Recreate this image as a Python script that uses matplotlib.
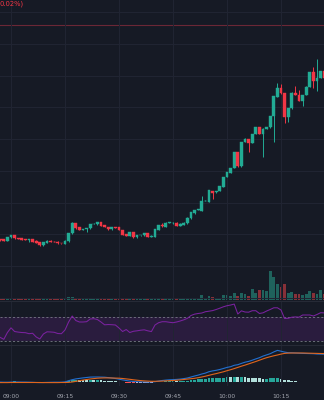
import matplotlib
matplotlib.use('Agg')
import matplotlib.pyplot as plt
from matplotlib.lines import Line2D
import numpy as np

# 1-minute bars, minutes from 09:00
minutes = np.arange(-3, 88)

open_ = [12.010, 12.007, 11.995, 12.025, 12.050, 12.020, 12.017, 12.010, 12.000, 12.010,
         11.993, 11.980, 11.947, 11.973, 11.993, 11.985, 11.983, 11.970, 11.960, 11.987,
         12.067, 12.167, 12.127, 12.103, 12.107, 12.117, 12.160, 12.157, 12.180, 12.150,
         12.130, 12.107, 12.130, 12.127, 12.100, 12.060, 12.040, 12.077, 12.027, 12.047,
         12.047, 12.067, 12.033, 12.033, 12.100, 12.153, 12.130, 12.173, 12.170, 12.173,
         12.143, 12.153, 12.167, 12.217, 12.267, 12.300, 12.293, 12.390, 12.383, 12.490,
         12.477, 12.490, 12.533, 12.630, 12.670, 12.720, 12.877, 12.740, 12.980, 13.007,
         12.970, 13.060, 13.127, 13.060, 13.110, 13.127, 13.240, 13.433, 13.523, 13.467,
         13.227, 13.317, 13.473, 13.450, 13.393, 13.450, 13.533, 13.680, 13.593, 13.620,
         13.690]
close = [11.997, 11.995, 12.027, 12.050, 12.017, 12.014, 12.004, 12.000, 12.007, 11.980,
         11.973, 11.947, 11.980, 11.993, 11.983, 11.981, 11.967, 11.966, 11.993, 12.067,
         12.167, 12.117, 12.100, 12.111, 12.120, 12.160, 12.163, 12.180, 12.143, 12.130,
         12.107, 12.127, 12.120, 12.100, 12.050, 12.040, 12.080, 12.027, 12.050, 12.050,
         12.067, 12.033, 12.043, 12.110, 12.150, 12.143, 12.173, 12.175, 12.173, 12.143,
         12.163, 12.173, 12.223, 12.277, 12.300, 12.305, 12.390, 12.393, 12.500, 12.470,
         12.490, 12.540, 12.630, 12.680, 12.720, 12.877, 12.740, 12.980, 13.007, 12.970,
         13.060, 13.127, 13.060, 13.113, 13.127, 13.240, 13.440, 13.523, 13.467, 13.227,
         13.317, 13.473, 13.450, 13.393, 13.450, 13.533, 13.680, 13.593, 13.620, 13.690,
         13.620]
high = [12.013, 12.010, 12.030, 12.053, 12.053, 12.023, 12.020, 12.013, 12.010, 12.012,
        11.996, 11.983, 11.983, 11.996, 11.996, 11.988, 11.986, 11.973, 11.996, 12.070,
        12.180, 12.170, 12.130, 12.114, 12.123, 12.163, 12.166, 12.183, 12.183, 12.153,
        12.133, 12.130, 12.133, 12.130, 12.103, 12.063, 12.083, 12.080, 12.053, 12.053,
        12.070, 12.070, 12.046, 12.113, 12.153, 12.167, 12.176, 12.178, 12.176, 12.176,
        12.166, 12.176, 12.226, 12.280, 12.303, 12.308, 12.440, 12.396, 12.503, 12.493,
        12.493, 12.543, 12.633, 12.683, 12.723, 12.880, 12.880, 12.983, 13.015, 13.010,
        13.063, 13.130, 13.130, 13.116, 13.130, 13.243, 13.443, 13.567, 13.560, 13.470,
        13.320, 13.476, 13.540, 13.500, 13.453, 13.536, 13.683, 13.730, 13.807, 13.693,
        13.710]
low = [11.993, 11.992, 11.992, 12.022, 12.014, 12.011, 12.000, 11.998, 11.983, 11.977,
       11.970, 11.944, 11.944, 11.970, 11.980, 11.978, 11.964, 11.963, 11.957, 11.984,
       12.064, 12.114, 12.097, 12.100, 12.083, 12.114, 12.157, 12.154, 12.140, 12.127,
       12.104, 12.104, 12.117, 12.097, 12.047, 12.037, 12.037, 12.024, 12.024, 12.044,
       12.044, 12.030, 12.030, 12.030, 12.097, 12.133, 12.127, 12.170, 12.163, 12.140,
       12.140, 12.150, 12.164, 12.214, 12.264, 12.297, 12.290, 12.387, 12.380, 12.410,
       12.474, 12.487, 12.530, 12.627, 12.667, 12.717, 12.730, 12.730, 12.977, 12.883,
       12.967, 13.057, 13.057, 12.833, 13.107, 13.124, 12.980, 13.430, 13.464, 13.173,
       13.180, 13.314, 13.447, 13.390, 13.340, 13.447, 13.530, 13.520, 13.490, 13.617,
       13.617]

# volume, thousands
volume = [1.0, 1.2, 1.5, 1.3, 1.0, 1.2, 1.0, 0.8, 1.0, 1.2, 1.4, 1.6, 1.2, 1.0, 0.8,
          1.0, 0.8, 1.0, 1.2, 2.2, 2.6, 1.8, 1.4, 1.0, 1.2, 1.5, 0.8, 1.3, 1.2, 1.0,
          1.0, 0.8, 0.8, 1.0, 1.5, 1.2, 1.2, 1.4, 1.0, 0.8, 1.0, 1.2, 0.8, 1.6, 1.4,
          1.6, 1.2, 0.8, 1.0, 1.2, 1.0, 1.5, 1.8, 1.5, 1.6, 1.0, 5.0, 1.6, 3.3, 2.3,
          2.0, 2.0, 4.3, 4.3, 3.6, 7.0, 3.6, 7.0, 6.0, 3.6, 11.0, 6.6, 10.0, 10.0, 8.3,
          28.6, 22.6, 15.3, 12.6, 16.0, 6.6, 7.3, 5.3, 5.3, 4.3, 5.3, 8.6, 6.6, 5.3, 10.0,
          5.6]

rsi = [35.3, 32.0, 43.6, 51.6, 45.3, 44.3, 43.6, 43.3, 41.6, 42.3, 36.0, 32.6, 41.1, 44.8,
       44.5, 44.0, 41.9, 41.6, 47.9, 61.5, 71.7, 64.0, 61.5, 61.5, 62.0, 66.6, 67.1, 65.7,
       61.5, 56.7, 57.2, 56.9, 56.4, 51.3, 45.3, 48.7, 43.6, 45.7, 46.5, 47.5, 48.2, 46.5,
       45.2, 56.4, 60.3, 62.0, 62.0, 61.0, 60.3, 61.5, 63.2, 65.2, 67.8, 72.6, 74.9, 76.0,
       76.8, 79.0, 79.9, 80.9, 82.8, 85.0, 87.4, 89.2, 90.4, 92.0, 75.1, 80.5, 78.5, 78.2,
       80.7, 80.7, 76.0, 77.1, 80.2, 82.8, 85.7, 85.7, 81.9, 67.4, 67.8, 69.7, 70.2, 69.7,
       73.4, 73.4, 73.4, 71.7, 74.3, 77.3, 77.0]

macd = [-0.004, -0.005, -0.005, -0.004, -0.003, -0.003, -0.004, -0.004, -0.005, -0.006,
        -0.008, -0.009, -0.008, -0.007, -0.006, -0.005, -0.005, -0.005, -0.002, 0.010,
        0.020, 0.028, 0.033, 0.038, 0.042, 0.046, 0.047, 0.047, 0.046, 0.045,
        0.041, 0.037, 0.032, 0.025, 0.018, 0.012, 0.006, 0.002, 0.000, -0.002,
        -0.003, -0.004, -0.003, 0.000, 0.006, 0.012, 0.016, 0.019, 0.021, 0.023,
        0.026, 0.031, 0.037, 0.047, 0.057, 0.066, 0.077, 0.086, 0.100, 0.108,
        0.114, 0.122, 0.132, 0.143, 0.150, 0.164, 0.170, 0.183, 0.195, 0.203,
        0.215, 0.228, 0.240, 0.256, 0.268, 0.280, 0.298, 0.313, 0.305, 0.296,
        0.290, 0.289, 0.287, 0.285, 0.283, 0.282, 0.281, 0.280, 0.277, 0.276,
        0.275]
signal = [-0.009, -0.009, -0.009, -0.008, -0.008, -0.008, -0.008, -0.008, -0.008, -0.008,
          -0.008, -0.008, -0.009, -0.009, -0.009, -0.009, -0.009, -0.008, -0.008, -0.007,
          -0.003, 0.003, 0.010, 0.016, 0.022, 0.027, 0.031, 0.035, 0.037, 0.038,
          0.038, 0.037, 0.036, 0.035, 0.032, 0.028, 0.024, 0.019, 0.015, 0.011,
          0.008, 0.006, 0.004, 0.004, 0.005, 0.006, 0.008, 0.010, 0.012, 0.015,
          0.018, 0.022, 0.026, 0.030, 0.034, 0.040, 0.047, 0.055, 0.064, 0.073,
          0.081, 0.090, 0.099, 0.110, 0.120, 0.131, 0.143, 0.155, 0.166, 0.178,
          0.190, 0.202, 0.215, 0.228, 0.240, 0.250, 0.259, 0.267, 0.276, 0.283,
          0.286, 0.287, 0.287, 0.287, 0.287, 0.286, 0.285, 0.284, 0.283, 0.282,
          0.281]
hist = [-0.008, -0.006, -0.003, 0.002, 0.003, 0.002, 0.001, -0.001, -0.003, -0.005,
        -0.008, -0.012, -0.013, -0.010, -0.008, -0.006, -0.006, -0.005, -0.002, 0.008,
        0.020, 0.022, 0.020, 0.018, 0.016, 0.017, 0.016, 0.016, 0.013, 0.010,
        0.007, 0.005, 0.003, 0.000, -0.005, -0.008, -0.009, -0.012, -0.012, -0.011,
        -0.010, -0.010, -0.009, -0.005, -0.001, 0.002, 0.005, 0.006, 0.006, 0.005,
        0.006, 0.008, 0.012, 0.018, 0.022, 0.023, 0.028, 0.028, 0.033, 0.034,
        0.035, 0.037, 0.040, 0.046, 0.045, 0.047, 0.044, 0.044, 0.043, 0.042,
        0.041, 0.038, 0.034, 0.030, 0.032, 0.034, 0.038, 0.040, 0.030, 0.020,
        0.014, 0.012, 0.006, 0.001, -0.004, -0.005, -0.004, -0.004, -0.003, -0.002,
        -0.002]

tick_minutes = [0, 15, 30, 45, 60, 75]
tick_labels = ['09:00', '09:15', '09:30', '09:45', '10:00', '10:15']
prev_close = 14.15

BG = '#161a25'
GRID = '#212533'
UP = '#22ab94'
DOWN = '#f23645'

fig = plt.figure(figsize=(3.24, 4.0), dpi=100, facecolor=BG)
H = 400.0
ax = fig.add_axes([0, 1 - 299.5 / H, 1, 299.5 / H])
axr = fig.add_axes([0, 1 - 344.5 / H, 1, 44 / H])
axm = fig.add_axes([0, 1 - 386 / H, 1, 40.5 / H])

xlim = (-3.056, 86.94)
for a in (ax, axr, axm):
    a.set_facecolor(BG)
    a.set_xlim(*xlim)
    for s in a.spines.values():
        s.set_visible(False)
    a.set_yticks([])
    a.set_xticks(tick_minutes)
    a.tick_params(length=0, labelbottom=False)
    a.grid(axis='x', color=GRID, lw=0.7)

# ---- price pane + volume ----
o = np.array(open_); c = np.array(close); h = np.array(high); l = np.array(low)
up = c >= o
cols = np.where(up, UP, DOWN)

axv = ax.twinx()
axv.set_ylim(0, 299.5)
axv.set_axis_off()
vcols = np.where(up, '#1f625c', '#873038')
axv.bar(minutes, volume, width=0.75, color=vcols, linewidth=0)
ax.set_zorder(axv.get_zorder() + 1)
ax.patch.set_visible(False)

ax.set_ylim(11.405, 14.40)
for yy in [14.277 - 0.317 * k for k in range(10)]:
    ax.axhline(yy, color=GRID, lw=0.7, zorder=0)
ax.axhline(prev_close, color='#6b2736', lw=0.8, zorder=1)

ax.vlines(minutes, l, h, colors=cols, lw=0.7, zorder=2)
ax.bar(minutes, c - o, bottom=o, width=0.75, color=cols, edgecolor=cols,
       linewidth=0.3, zorder=3)

ax.text(0.0, 0.987, '0.02%)', transform=ax.transAxes, color=DOWN, fontsize=4.9,
        ha='left', va='center')

# ---- RSI pane ----
axr.set_ylim(23.2, 98.1)
axr.axhspan(30, 70, color='#2a1c3e', lw=0, zorder=0)
axr.axhline(70, color='#787b86', lw=0.6, ls=(0, (2.5, 2.5)))
axr.axhline(30, color='#787b86', lw=0.6, ls=(0, (2.5, 2.5)))
axr.plot(minutes, rsi, color='#7b22a0', lw=0.75)

# ---- MACD pane ----
axm.set_ylim(-0.043, 0.362)
hv = np.array(hist)
prev = np.concatenate([[hv[0]], hv[:-1]])
hcols = np.where(hv >= 0, np.where(hv >= prev, '#26a69a', '#b2dfdb'),
                 np.where(hv < prev, '#ff5252', '#ffcdd2'))
axm.bar(minutes, hv, width=0.8, color=hcols, linewidth=0)
axm.plot(minutes, macd, color='#2270d0', lw=0.8)
axm.plot(minutes, signal, color='#e0651c', lw=0.8)
axm.set_xticklabels(tick_labels)
axm.tick_params(labelbottom=True, pad=5.5, labelsize=4.3, labelcolor='#a3a6af')

for yy in (300.5, 344.5):
    fig.add_artist(Line2D([0, 1], [1 - yy / H, 1 - yy / H], transform=fig.transFigure,
                          color='#262a36', lw=0.8))

fig.savefig('out.png', dpi=100, facecolor=BG)
